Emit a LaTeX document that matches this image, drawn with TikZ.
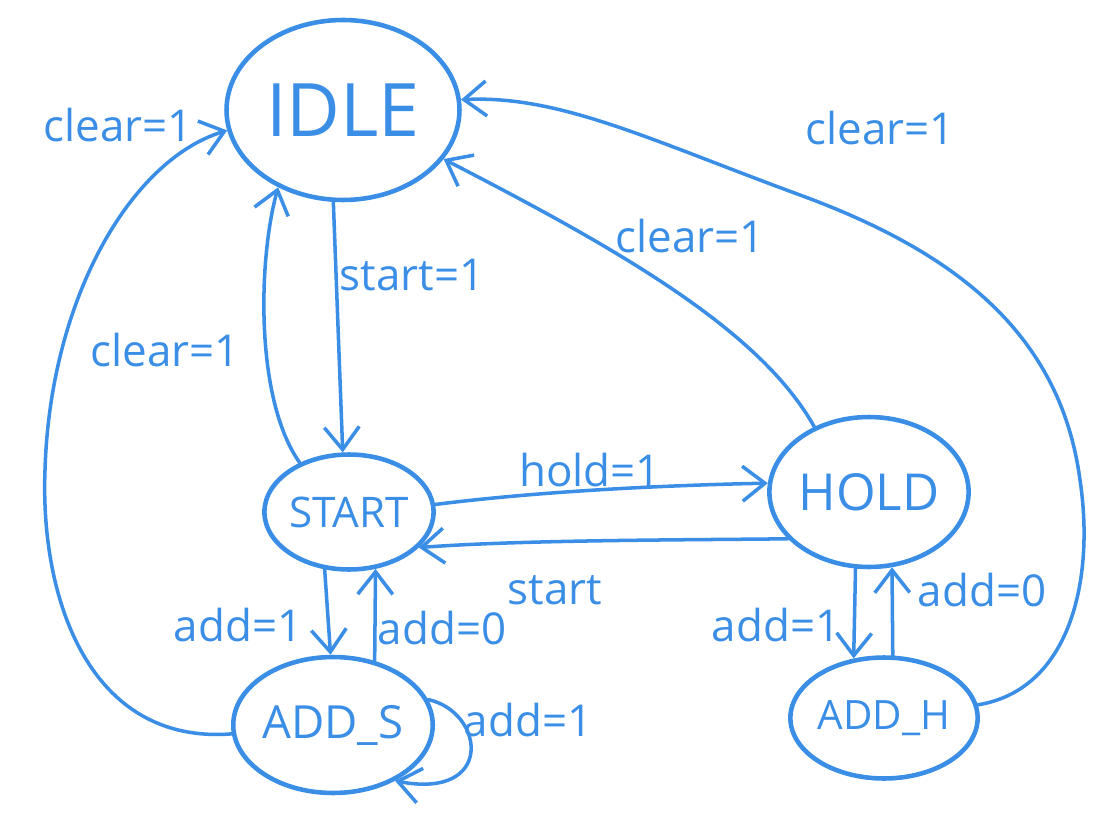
\documentclass[tikz,border=0pt]{standalone}
\usepackage{fontspec}
\setmainfont{Open Sans}
\usetikzlibrary{shapes,arrows.meta}
\definecolor{penblue}{RGB}{59,142,230}
\tikzset{
  state/.style={ellipse,draw=penblue,line width=2.6pt,text=penblue,inner sep=0pt,
    font=\fontsize{26}{30}\selectfont},
  lbl/.style={text=penblue,inner sep=1pt,font=\fontsize{25}{30}\selectfont},
  edge/.style={draw=penblue,line width=2pt,line cap=round,
    -{Straight Barb[length=4.5mm,width=7mm,line width=2pt]}},
}
\begin{document}
\begin{tikzpicture}[x=0.02cm,y=-0.02cm]
    \useasboundingbox (0,0) rectangle (1105,814);

    % states
    \node[state,minimum width=4.66cm,minimum height=3.6cm,font=\fontsize{42}{46}\selectfont] (idle) at (343,110) {IDLE};
    \node[state,minimum width=3.24cm,minimum height=2.3cm,font=\fontsize{24}{28}\selectfont] (start) at (349,512) {START};
    \node[state,minimum width=3.24cm,minimum height=3cm,font=\fontsize{29}{32}\selectfont] (hold) at (869,492) {HOLD};
    \node[state,minimum width=3.6cm,minimum height=2.72cm] (adds) at (333,725) {ADD\_S};
    \node[state,minimum width=3.36cm,minimum height=2.42cm,font=\fontsize{23}{28}\selectfont] (addh) at (884,718) {ADD\_H};

    % transitions
    \draw[edge] (idle.-96) -- (start.96);
    \draw[edge] (start.135) .. controls (255,400) and (258,260) .. (idle.-130);
    \draw[edge] (start.5) .. controls (550,490) and (680,485) .. (hold.175);
    \draw[edge] (hold.-150) .. controls (680,540) and (520,540) .. (start.-27);
    \draw[edge] (hold.130) .. controls (760,330) and (620,250) .. (idle.-26);
    \draw[edge] (start.-113) -- (adds.92);
    \draw[edge] (adds.57) -- (start.-65);
    \draw[edge] (hold.-100) -- (addh.117);
    \draw[edge] (addh.82) -- (hold.-73);
    \draw[edge] (adds.15) .. controls (485,712) and (495,800) .. (adds.-42);
    \draw[edge] (adds.185) .. controls (90,745) and (40,600) .. (45,470)
        .. controls (50,300) and (130,160) .. (idle.190);
    \draw[edge] (addh.8) .. controls (1070,690) and (1095,580) .. (1080,480)
        .. controls (1060,330) and (950,250) .. (800,195)
        .. controls (650,140) and (560,95) .. (idle.5);

    % conditions
    \node[lbl] (l-clr-a) at (118,125) {clear=1};
    \node[lbl] (l-clr-b) at (165,350) {clear=1};
    \node[lbl] (l-str-a) at (412,275) {start=1};
    \node[lbl] (l-clr-c) at (690,236) {clear=1};
    \node[lbl] (l-clr-d) at (880,128) {clear=1};
    \node[lbl] (l-hld) at (590,470) {hold=1};
    \node[lbl] (l-str-b) at (555,590) {start};
    \node[lbl] (l-add-a) at (238,625) {add=1};
    \node[lbl] (l-add-b) at (442,628) {add=0};
    \node[lbl] (l-add-c) at (528,720) {add=1};
    \node[lbl] (l-add-d) at (776,625) {add=1};
    \node[lbl] (l-add-e) at (982,590) {add=0};
\end{tikzpicture}
\end{document}
